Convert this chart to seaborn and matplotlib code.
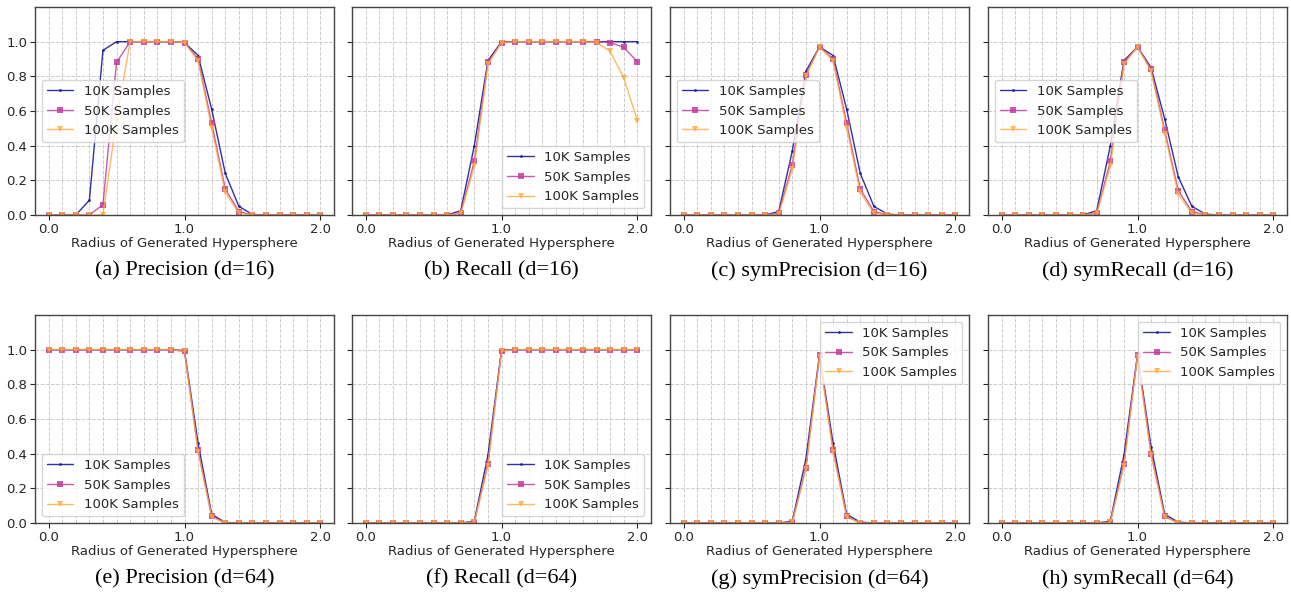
import numpy as np
import pandas as pd
import matplotlib
matplotlib.use("Agg")
import matplotlib.pyplot as plt
from matplotlib.ticker import MultipleLocator
import seaborn as sns

radius = [round(0.1 * i, 1) for i in range(21)]
series_names = ["10K Samples", "50K Samples", "100K Samples"]

# ---- d = 16 ----
prec16_10k = [0, 0, 0, 0.085, 0.95, 1.0, 1.0, 1.0, 1.0, 1.0, 0.995, 0.92, 0.61, 0.24, 0.05, 0.003, 0, 0, 0, 0, 0]
prec16_50k = [0, 0, 0, 0, 0.06, 0.88, 1.0, 1.0, 1.0, 1.0, 0.995, 0.90, 0.53, 0.15, 0.02, 0, 0, 0, 0, 0, 0]
prec16_100k = [0, 0, 0, 0, 0, 0.55, 1.0, 1.0, 1.0, 1.0, 0.995, 0.89, 0.50, 0.13, 0.01, 0, 0, 0, 0, 0, 0]

rec16_10k = [0, 0, 0, 0, 0, 0, 0, 0.025, 0.40, 0.89, 1.0, 1.0, 1.0, 1.0, 1.0, 1.0, 1.0, 1.0, 1.0, 1.0, 1.0]
rec16_50k = [0, 0, 0, 0, 0, 0, 0, 0.01, 0.31, 0.88, 0.995, 1.0, 1.0, 1.0, 1.0, 1.0, 1.0, 1.0, 0.995, 0.967, 0.884]
rec16_100k = [0, 0, 0, 0, 0, 0, 0, 0.01, 0.28, 0.87, 0.995, 1.0, 1.0, 1.0, 1.0, 1.0, 1.0, 0.995, 0.944, 0.79, 0.545]

sprec16_10k = [0, 0, 0, 0, 0, 0, 0, 0.02, 0.37, 0.83, 0.97, 0.92, 0.61, 0.24, 0.05, 0.005, 0, 0, 0, 0, 0]
sprec16_50k = [0, 0, 0, 0, 0, 0, 0, 0.01, 0.29, 0.81, 0.97, 0.90, 0.53, 0.15, 0.02, 0, 0, 0, 0, 0, 0]
sprec16_100k = [0, 0, 0, 0, 0, 0, 0, 0.005, 0.265, 0.80, 0.97, 0.89, 0.50, 0.13, 0.01, 0, 0, 0, 0, 0, 0]

srec16_10k = [0, 0, 0, 0, 0, 0, 0, 0.025, 0.40, 0.89, 0.97, 0.85, 0.555, 0.22, 0.05, 0.005, 0, 0, 0, 0, 0]
srec16_50k = [0, 0, 0, 0, 0, 0, 0, 0.01, 0.31, 0.88, 0.97, 0.84, 0.49, 0.14, 0.02, 0, 0, 0, 0, 0, 0]
srec16_100k = [0, 0, 0, 0, 0, 0, 0, 0.01, 0.28, 0.87, 0.97, 0.83, 0.47, 0.12, 0.01, 0, 0, 0, 0, 0, 0]

# ---- d = 64 ----
prec64_10k = [1.0, 1.0, 1.0, 1.0, 1.0, 1.0, 1.0, 1.0, 1.0, 1.0, 0.995, 0.46, 0.05, 0.003, 0, 0, 0, 0, 0, 0, 0]
prec64_50k = [1.0, 1.0, 1.0, 1.0, 1.0, 1.0, 1.0, 1.0, 1.0, 1.0, 0.99, 0.42, 0.04, 0, 0, 0, 0, 0, 0, 0, 0]
prec64_100k = [1.0, 1.0, 1.0, 1.0, 1.0, 1.0, 1.0, 1.0, 1.0, 1.0, 0.99, 0.41, 0.035, 0, 0, 0, 0, 0, 0, 0, 0]

rec64_10k = [0, 0, 0, 0, 0, 0, 0, 0, 0.01, 0.39, 0.995, 1.0, 1.0, 1.0, 1.0, 1.0, 1.0, 1.0, 1.0, 1.0, 1.0]
rec64_50k = [0, 0, 0, 0, 0, 0, 0, 0, 0.005, 0.34, 0.995, 1.0, 1.0, 1.0, 1.0, 1.0, 1.0, 1.0, 1.0, 1.0, 1.0]
rec64_100k = [0, 0, 0, 0, 0, 0, 0, 0, 0.005, 0.33, 0.99, 1.0, 1.0, 1.0, 1.0, 1.0, 1.0, 1.0, 1.0, 1.0, 1.0]

sprec64_10k = [0, 0, 0, 0, 0, 0, 0, 0, 0.01, 0.37, 0.97, 0.46, 0.05, 0.005, 0, 0, 0, 0, 0, 0, 0]
sprec64_50k = [0, 0, 0, 0, 0, 0, 0, 0, 0.005, 0.32, 0.97, 0.42, 0.04, 0, 0, 0, 0, 0, 0, 0, 0]
sprec64_100k = [0, 0, 0, 0, 0, 0, 0, 0, 0.003, 0.31, 0.96, 0.41, 0.035, 0, 0, 0, 0, 0, 0, 0, 0]

srec64_10k = [0, 0, 0, 0, 0, 0, 0, 0, 0.01, 0.39, 0.97, 0.44, 0.05, 0.005, 0, 0, 0, 0, 0, 0, 0]
srec64_50k = [0, 0, 0, 0, 0, 0, 0, 0, 0.005, 0.34, 0.97, 0.40, 0.04, 0, 0, 0, 0, 0, 0, 0, 0]
srec64_100k = [0, 0, 0, 0, 0, 0, 0, 0, 0.003, 0.33, 0.96, 0.39, 0.035, 0, 0, 0, 0, 0, 0, 0, 0]

captions = ["(a) Precision (d=16)", "(b) Recall (d=16)", "(c) symPrecision (d=16)", "(d) symRecall (d=16)",
            "(e) Precision (d=64)", "(f) Recall (d=64)", "(g) symPrecision (d=64)", "(h) symRecall (d=64)"]
panels = [
    (prec16_10k, prec16_50k, prec16_100k),
    (rec16_10k, rec16_50k, rec16_100k),
    (sprec16_10k, sprec16_50k, sprec16_100k),
    (srec16_10k, srec16_50k, srec16_100k),
    (prec64_10k, prec64_50k, prec64_100k),
    (rec64_10k, rec64_50k, rec64_100k),
    (sprec64_10k, sprec64_50k, sprec64_100k),
    (srec64_10k, srec64_50k, srec64_100k),
]
legend_locs = ["center left", "lower right", "center left", "center left",
               "lower left", "lower right", "upper right", "upper right"]

colors = ["#1a1a96", "#c23c9e", "#ffa83a"]
markers = [".", "s", "v"]
msizes = [4, 4.5, 5]
alphas = [0.9, 0.85, 0.8]

sns.set_theme(style="ticks")
plt.rcParams["font.family"] = ["DejaVu Sans"]

W, H = 1291, 596
fig = plt.figure(figsize=(W / 100, H / 100), dpi=100)

lefts = [35, 352, 670, 988]
tops = [7, 315]
aw, ah = 299, 208

for idx, (vals, cap, loc) in enumerate(zip(panels, captions, legend_locs)):
    r, c = divmod(idx, 4)
    l = lefts[c]
    t = tops[r]
    ax = fig.add_axes([l / W, (H - t - ah) / H, aw / W, ah / H])
    for name, v, col, mk, ms, al in zip(series_names, vals, colors, markers, msizes, alphas):
        df = pd.DataFrame({"radius": radius, "value": v})
        sns.lineplot(data=df, x="radius", y="value", ax=ax, color=col, marker=mk,
                     markersize=ms, markeredgewidth=0, linewidth=1.0, alpha=al, label=name)
    ax.set_xlim(-0.1, 2.1)
    ax.set_ylim(0, 1.2)
    ax.set_xticks([0.0, 1.0, 2.0])
    ax.set_xticklabels(["0.0", "1.0", "2.0"])
    ax.xaxis.set_minor_locator(MultipleLocator(0.1))
    ax.set_yticks([0.0, 0.2, 0.4, 0.6, 0.8, 1.0])
    if c == 0:
        ax.set_yticklabels(["0.0", "0.2", "0.4", "0.6", "0.8", "1.0"])
    else:
        ax.set_yticklabels([])
    ax.tick_params(axis="both", which="major", labelsize=9.5, length=3.5, width=0.8, pad=2)
    ax.tick_params(axis="x", which="minor", length=0)
    ax.grid(True, which="major", linestyle="--", color="#cccccc", linewidth=0.7)
    ax.grid(True, which="minor", axis="x", linestyle="--", color="#cccccc", linewidth=0.7)
    ax.set_xlabel("Radius of Generated Hypersphere", fontsize=9.5, labelpad=1)
    ax.set_ylabel("")
    for s in ax.spines.values():
        s.set_color("#444444")
        s.set_linewidth(1.0)
    ax.legend(loc=loc, fontsize=9.5, frameon=True, framealpha=0.8, edgecolor="#cccccc",
              handlelength=2.0, borderpad=0.4, labelspacing=0.5)
    cy = t + ah + 56
    fig.text((l + aw / 2) / W, 1 - cy / H, cap, ha="center", va="center",
             fontsize=16, color="black", family=["Liberation Serif", "DejaVu Serif"])

fig.savefig("out.png", dpi=100)
